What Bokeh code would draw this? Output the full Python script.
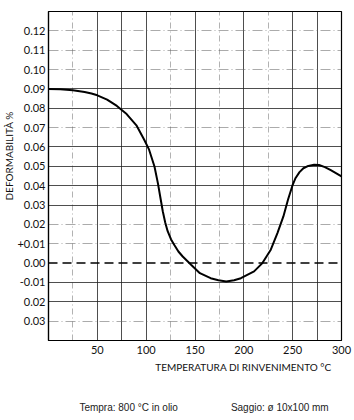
from bokeh.plotting import figure
from bokeh.layouts import column
from bokeh.models import FixedTicker, Grid, Span, Range1d, Title
from bokeh.core.properties import value
from bokeh.embed import file_html
from bokeh.resources import INLINE

# data
temp = [0, 12, 25, 37, 44, 50, 60, 70, 80, 90, 98, 103, 108.5, 112, 114.5, 117,
        119.5, 122, 125.5, 129, 133, 137.4, 146, 155, 166, 174, 182, 190, 197,
        210.5, 219, 227.6, 234.4, 240.5, 245.2, 249.7, 253, 257, 261, 266, 272,
        277, 283, 289, 300]
deform = [0.0900, 0.0898, 0.0893, 0.0884, 0.0876, 0.0867, 0.0845, 0.0812, 0.0770,
          0.0712, 0.0637, 0.0586, 0.0499, 0.0413, 0.0340, 0.0268, 0.0210, 0.0165,
          0.0122, 0.0092, 0.0060, 0.0034, -0.0009, -0.0052, -0.0078, -0.0089,
          -0.0095, -0.0089, -0.0078, -0.0043, 0.0000, 0.0069, 0.0155, 0.0241,
          0.0327, 0.0400, 0.0440, 0.0470, 0.0490, 0.0502, 0.0508, 0.0507, 0.0496,
          0.0480, 0.0448]

x_ticks = [50, 100, 150, 200, 250, 300]
y_ticks = [0.12, 0.11, 0.10, 0.09, 0.08, 0.07, 0.06, 0.05, 0.04, 0.03, 0.02,
           0.01, 0.00, -0.01, -0.02, -0.03]
y_tick_labels = ["0.12", "0.11", "0.10", "0.09", "0.08", "0.07", "0.06", "0.05",
                 "0.04", "0.03", "0.02", "+0.01", "0.00", "-0.01", "0.02", "0.03"]
x_grid_strong = [50, 75, 100, 150, 200, 250, 275]
x_grid_faint = [25, 125, 175, 225]
y_grid_strong = [0.09, 0.08, 0.06, 0.05, 0.04, 0.03, -0.01, -0.02]
y_grid_faint = [0.12, 0.11, 0.10, 0.07, 0.02, 0.01, -0.03]

y_title = "DEFORMABILITÀ %"
x_title = "TEMPERATURA DI RINVENIMENTO °C"
notes = ["Tempra: 800 °C in olio", "Saggio: ø 10x100 mm"]

FONT = "Lato"
W = 354
H_MAIN = 360
H_FOOT = 60
LEFT, RIGHT = 47, 13

p = figure(width=W, height=H_MAIN, output_backend="svg", toolbar_location=None,
           x_range=Range1d(0, 300), y_range=Range1d(-0.04, 0.13),
           min_border_left=LEFT, min_border_right=RIGHT, min_border_top=11,
           min_border_bottom=20)
p.outline_line_color = "black"
p.outline_line_width = 1.2

p.xaxis.ticker = FixedTicker(ticks=x_ticks)
p.yaxis.ticker = FixedTicker(ticks=y_ticks)
p.yaxis.major_label_overrides = {float(v): s for v, s in zip(y_ticks, y_tick_labels)}
for ax in (p.xaxis[0], p.yaxis[0]):
    ax.axis_line_color = "black"
    ax.axis_line_width = 1.2
    ax.major_tick_line_color = None
    ax.minor_tick_line_color = None
    ax.major_tick_out = 0
    ax.major_tick_in = 0
    ax.minor_tick_out = 0
    ax.minor_tick_in = 0
    ax.major_label_text_font = FONT
    ax.major_label_text_font_size = "11px"
    ax.major_label_text_color = "#111"
p.xaxis.major_label_standoff = 5
p.yaxis.major_label_standoff = 3

p.add_layout(Title(text=y_title, align="left", offset=140, text_font=FONT,
                   text_font_size="10px", text_font_style="normal",
                   text_color="#111", standoff=0), "left")

p.xgrid.visible = False
p.ygrid.visible = False
p.add_layout(Grid(dimension=0, ticker=FixedTicker(ticks=x_grid_strong),
                  grid_line_color="#222", grid_line_alpha=0.8, grid_line_width=1))
p.add_layout(Grid(dimension=0, ticker=FixedTicker(ticks=x_grid_faint),
                  grid_line_color="#666", grid_line_alpha=0.5, grid_line_width=1,
                  grid_line_dash="6 3 1 3"))
p.add_layout(Grid(dimension=1, ticker=FixedTicker(ticks=y_grid_strong),
                  grid_line_color="#222", grid_line_alpha=0.8, grid_line_width=1))
p.add_layout(Grid(dimension=1, ticker=FixedTicker(ticks=y_grid_faint),
                  grid_line_color="#666", grid_line_alpha=0.55, grid_line_width=1,
                  grid_line_dash="10 3 1 3"))

p.add_layout(Span(location=0.0, dimension="width", line_color="black",
                  line_width=1.5, line_dash="9 5"))

p.line(temp, deform, line_color="black", line_width=2, line_join="round")

# footer strip: same side borders as the chart, so x units are canvas pixels
f = figure(width=W, height=H_FOOT, output_backend="svg", toolbar_location=None,
           x_range=Range1d(LEFT, W - RIGHT), y_range=Range1d(H_FOOT, 0),
           x_axis_location=None, y_axis_location=None,
           min_border_left=LEFT, min_border_right=RIGHT,
           min_border_top=0, min_border_bottom=0)
f.outline_line_color = None
f.grid.visible = False
f.text(x=[331], y=[6], text=[x_title], text_align="right", text_baseline="middle",
       text_font=value(FONT), text_font_size="10px", text_color="#111")
f.text(x=[78, 230], y=[47, 47], text=notes, text_align="left",
       text_baseline="middle", text_font=value("Liberation Sans"),
       text_font_size="10px", text_color="#222")

layout = column(p, f, spacing=0)
open("out.html", "w").write(file_html(layout, INLINE))
